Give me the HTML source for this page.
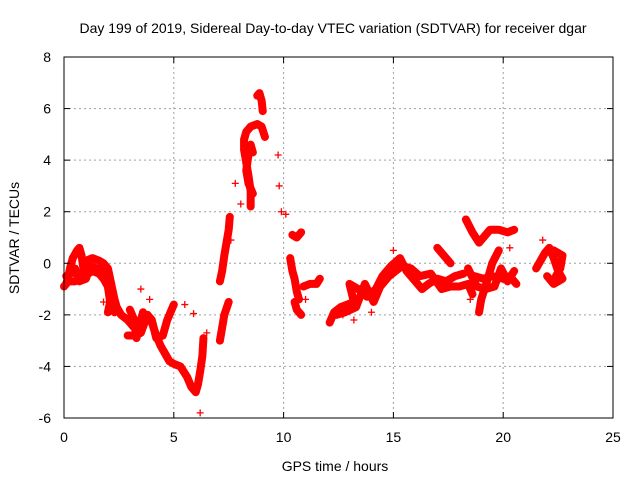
<!DOCTYPE html>
<html><head><meta charset="utf-8"><style>
body{margin:0;background:#fff}
svg{display:block;font-family:"Liberation Sans",sans-serif}
</style></head><body>
<svg id="c" width="640" height="480">
<text x="333" y="33" text-anchor="middle" font-size="14">Day 199 of 2019, Sidereal Day-to-day VTEC variation (SDTVAR) for receiver dgar</text>
<text x="335" y="471" text-anchor="middle" font-size="14">GPS time / hours</text>
<text transform="translate(19,238) rotate(-90)" text-anchor="middle" font-size="14">SDTVAR / TECUs</text>
<g id="grid"></g><g id="marks"></g><g id="axes"></g>
</svg>
<script>
const xTicks=[0,5,10,15,20,25];
const yTicks=[-6,-4,-2,0,2,4,6,8];
const trackA=[[0,-0.9],[0.1,-0.8],[0.2,-0.5],[0.3,-0.1],[0.4,0.2],[0.6,0.5],[0.7,0.6],[0.8,0.3],[0.9,-0.3],[1.1,-0.4],[1.3,-0.3],[1.6,-0.4],[1.8,-0.6],[2.0,-0.9],[2.1,-1.3],[2.2,-1.7],[2.3,-1.9]];
const trackA2=[[0.1,-0.5],[0.3,-0.4],[0.5,-0.2],[0.7,-0.7],[1.0,-0.6],[1.2,-0.1],[1.5,-0.2],[1.9,-0.3],[2.0,-0.9],[2.1,-1.5],[2.0,-1.9]];
const trackB=[[0.2,-0.7],[0.5,-0.7],[0.8,-0.5],[1.0,0.1],[1.3,0.2],[1.6,0.1],[1.8,0.0],[2.0,-0.2],[2.1,-0.6],[2.2,-1.0],[2.3,-1.4],[2.4,-1.7],[2.6,-2.0],[2.9,-2.2],[3.2,-2.5],[3.5,-2.4],[3.8,-2.0],[4.0,-2.3],[4.2,-2.8],[4.4,-3.2],[4.6,-3.5],[4.8,-3.8],[5.0,-3.9],[5.3,-4.0],[5.6,-4.4],[5.8,-4.8],[6.0,-5.0],[6.1,-4.7],[6.2,-4.2],[6.3,-3.6],[6.35,-2.9]];
const trackC=[[2.9,-2.8],[3.2,-2.8],[3.5,-2.7],[3.8,-2.0],[4.0,-2.2],[4.2,-2.9],[4.5,-2.8],[4.7,-2.2],[4.9,-1.8],[5.0,-1.6]];
const trackC2=[[3.0,-1.8],[3.2,-2.2],[3.3,-2.9],[3.5,-2.2],[3.6,-1.9]];
const trackD=[[7.1,-3.0],[7.2,-2.5],[7.3,-2.0],[7.5,-1.5]];
const trackE=[[7.1,-0.7],[7.2,-0.3],[7.3,0.3],[7.4,0.8],[7.5,1.3],[7.55,1.8]];
const trackF=[[8.5,2.2],[8.5,2.8],[8.4,3.4],[8.3,3.9],[8.2,4.4],[8.2,4.8],[8.3,5.1],[8.5,5.3],[8.8,5.4],[9.0,5.3],[9.15,4.9]];
const trackF2=[[8.6,2.7],[8.4,3.1],[8.3,3.6],[8.4,4.2],[8.5,4.6],[8.6,4.3]];
const trackG=[[8.8,6.5],[8.9,6.6],[9.0,6.3],[9.05,5.9]];
const trackH=[[10.3,0.2],[10.4,-0.3],[10.5,-0.6],[10.6,-1.1],[10.7,-1.4]];
const trackI=[[10.5,-1.5],[10.6,-1.8],[10.8,-2.0]];
const trackJ=[[10.4,1.1],[10.6,1.0],[10.8,1.2]];
const trackJ2=[[10.9,-0.9],[11.2,-0.8],[11.5,-0.8],[11.65,-0.6]];
const trackK=[[12.1,-2.3],[12.3,-1.9],[12.6,-1.7],[12.9,-1.6],[13.2,-1.5],[13.0,-0.8],[13.4,-1.0],[13.8,-1.3],[14.2,-1.0],[14.5,-0.5],[14.9,-0.1],[15.3,0.2],[15.6,-0.3],[15.9,-0.6],[16.3,-1.0],[16.6,-0.8],[17.0,-0.6],[17.4,-0.7],[17.8,-0.5],[18.2,-0.4]];
const trackK2=[[12.4,-2.0],[12.8,-1.9],[13.3,-1.7],[13.7,-0.8],[14.1,-1.5],[14.4,-0.9],[14.8,-0.5],[15.1,-0.3],[15.4,-0.1],[15.8,-0.2],[16.2,-0.5],[16.7,-0.4],[17.2,-1.0],[17.6,-0.9],[18.0,-0.9],[18.4,-0.8],[18.6,-1.2]];
const trackL=[[17.0,0.6],[17.3,0.3],[17.6,0.0]];
const trackM=[[18.3,1.7],[18.6,1.2],[18.9,0.8],[19.1,1.0],[19.4,1.3],[19.8,1.3],[20.2,1.2],[20.5,1.3]];
const trackN=[[18.9,-1.9],[19.0,-1.4],[19.3,-0.6],[19.5,0.0],[19.8,0.5]];
const trackO=[[18.7,-0.5],[19.1,-0.6],[19.5,-0.5],[20.0,-0.6],[20.3,-0.5],[20.6,-0.8]];
const trackO2=[[18.4,-0.2],[18.8,-0.9],[19.2,-1.0],[19.6,-0.9],[19.9,-0.2],[20.2,-0.7],[20.5,-0.3]];
const trackP=[[21.5,-0.2],[21.9,0.4],[22.1,0.6],[22.3,0.2],[22.5,-0.3],[22.7,-0.6],[22.3,-0.8],[22.0,-0.5]];
const trackP2=[[22.3,0.5],[22.5,0.4],[22.7,0.3],[22.6,-0.2],[22.4,-0.5]];
const isoT=[1.8,3.5,3.9,5.5,5.9,6.2,6.5,7.8,8.05,8.6,9.75,9.8,10.1,9.9,12.7,13.2,14.0,21.8,20.3,18.5,15.0,11.0,7.6];
const isoV=[-1.5,-1.0,-1.4,-1.6,-1.95,-5.8,-2.7,3.1,2.3,4.3,4.2,3.0,1.9,2.0,-2.0,-2.2,-1.9,0.9,0.6,-1.4,0.5,-1.4,0.9];
const tracks=[trackA,trackA2,trackB,trackC,trackC2,trackD,trackE,trackF,trackF2,trackG,trackH,trackI,trackJ,trackJ2,trackK,trackK2,trackL,trackM,trackN,trackO,trackO2,trackP,trackP2];
const L=64,R=613,T=57,B=418;
const xs=t=>L+(t-0)/25*(R-L);
const ys=v=>B-(v+6)/14*(B-T);
const NS="http://www.w3.org/2000/svg";
function mk(tag,attrs,parent){const e=document.createElementNS(NS,tag);for(const k in attrs)e.setAttribute(k,attrs[k]);parent.appendChild(e);return e;}
const grid=document.getElementById('grid'),axes=document.getElementById('axes'),marks=document.getElementById('marks');
xTicks.forEach(t=>{
  const x=xs(t);
  if(t>0&&t<25){const g=mk('line',{x1:x,x2:x,y1:T,y2:B,stroke:'#a0a0a0','stroke-dasharray':'2,3'},grid);
  
  }
  mk('line',{x1:x,x2:x,y1:B,y2:B-6,stroke:'#000'},axes);
  mk('line',{x1:x,x2:x,y1:T,y2:T+6,stroke:'#000'},axes);
  const lb=mk('text',{x:x,y:B+24,'text-anchor':'middle','font-size':14},axes);lb.textContent=t;
  
  
});
yTicks.forEach(v=>{
  const y=ys(v);
  if(v>-6&&v<8){const g=mk('line',{x1:L,x2:R,y1:y,y2:y,stroke:'#a0a0a0','stroke-dasharray':'2,3'},grid);
  
  }
  mk('line',{x1:L,x2:L+6,y1:y,y2:y,stroke:'#000'},axes);
  mk('line',{x1:R,x2:R-6,y1:y,y2:y,stroke:'#000'},axes);
  const lb=mk('text',{x:L-13,y:y+5,'text-anchor':'end','font-size':14},axes);lb.textContent=v;
  
  
});
const border=mk('rect',{x:L,y:T,width:R-L,height:B-T,fill:'none',stroke:'#000'},axes);


function plus(x,y){
  const p=mk('path',{d:`M${x-3.5},${y}h7M${x},${y-3.5}v7`,stroke:'#f00','stroke-width':1.3,fill:'none'},marks);
  
  
}
tracks.forEach(tr=>{
  const pl=mk('polyline',{points:tr.map(p=>xs(p[0])+','+ys(p[1])).join(' '),fill:'none',stroke:'#f00','stroke-width':8,'stroke-linejoin':'round','stroke-linecap':'round'},marks);
  
  
  tr.forEach(p=>plus(xs(p[0]),ys(p[1])));
});
isoT.forEach((t,i)=>plus(xs(t),ys(isoV[i])));
</script>
</body></html>
